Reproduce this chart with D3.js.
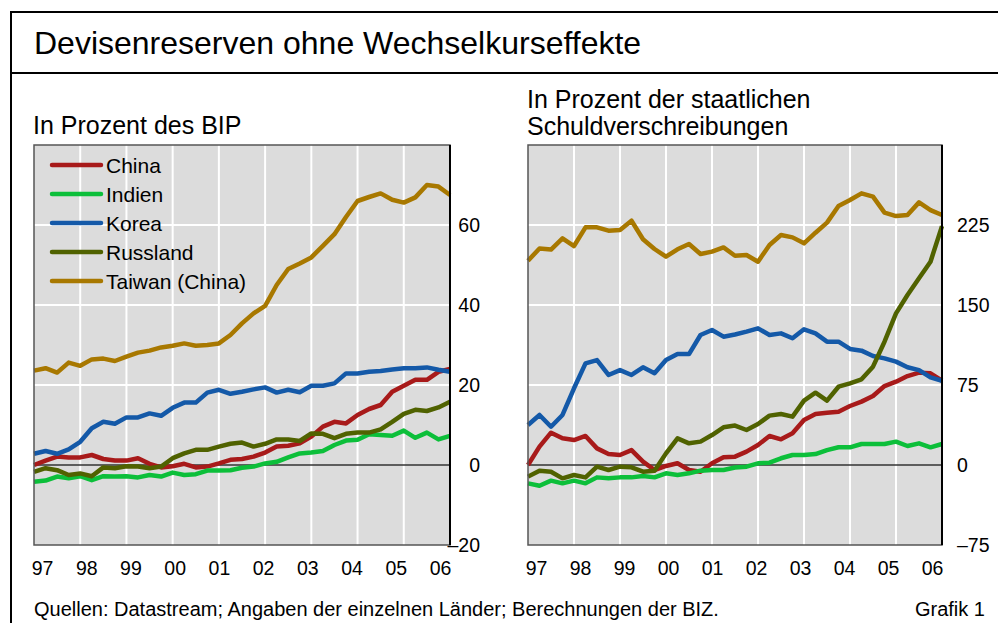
<!DOCTYPE html>
<html lang="de">
<head>
<meta charset="UTF-8">
<title>Devisenreserven ohne Wechselkurseffekte</title>
<script src="https://d3js.org/d3.v7.min.js"></script>
<style>
  body { margin: 0; background: #fff; }
  svg { display: block; font-family: "Liberation Sans", Arial, sans-serif; }
</style>
</head>
<body>
<div id="chart"></div>
<script>
// quarterly observations, 1997 Q1 to 2006 Q1
const yearLabels = ["97", "98", "99", "00", "01", "02", "03", "04", "05", "06"];
const countries = ["China", "Indien", "Korea", "Russland", "Taiwan (China)"];
const colors = ["#a81a1a", "#0cbf3a", "#1459a8", "#506200", "#a87800"];

// Left: in % of GDP
const bipChina = [0, 1.1, 2.1, 1.9, 1.9, 2.5, 1.5, 1.1, 1.1, 1.7, 0.3, -0.6, -0.3, 0.3, -0.6, -0.4, 0.4, 1.3, 1.5, 2.1, 3.1, 4.6, 4.8, 5.4, 7.1, 9.6, 10.8, 10.4, 12.5, 14.0, 15.0, 18.3, 19.8, 21.3, 21.3, 23.3, 24.0];
const bipIndien = [-4.2, -3.9, -2.9, -3.3, -2.8, -3.8, -2.8, -2.9, -2.8, -3.1, -2.5, -2.9, -1.9, -2.5, -2.3, -1.4, -1.4, -1.3, -0.7, -0.4, 0.4, 0.8, 1.9, 2.9, 3.1, 3.5, 5.0, 6.1, 6.3, 7.7, 7.5, 7.3, 8.6, 6.8, 8.1, 6.4, 7.3];
const bipKorea = [2.8, 3.5, 2.8, 3.9, 5.8, 9.2, 10.8, 10.3, 11.9, 11.9, 12.9, 12.3, 14.3, 15.6, 15.6, 18.1, 18.8, 17.8, 18.3, 18.9, 19.4, 18.1, 18.8, 18.2, 19.8, 19.8, 20.4, 22.9, 22.9, 23.3, 23.5, 23.9, 24.2, 24.2, 24.4, 23.8, 23.3];
const bipRussland = [-1.7, -0.8, -1.3, -2.5, -2.1, -2.8, -0.6, -0.8, -0.3, -0.4, -0.8, -0.4, 1.7, 2.9, 3.8, 3.8, 4.6, 5.3, 5.6, 4.6, 5.3, 6.4, 6.4, 6.0, 7.9, 7.8, 6.7, 7.8, 8.1, 8.1, 8.9, 10.8, 12.8, 13.8, 13.5, 14.4, 15.8];
const bipTaiwan = [23.6, 24.2, 23.1, 25.6, 24.8, 26.4, 26.6, 26.0, 27.1, 28.1, 28.6, 29.4, 29.8, 30.4, 29.8, 30.0, 30.4, 32.5, 35.4, 37.9, 39.8, 45.0, 49.0, 50.4, 51.9, 54.8, 57.7, 62.0, 66.0, 67.0, 67.9, 66.3, 65.6, 66.9, 70.0, 69.6, 67.5];

// Right: in % of government bonds
const sdvChina = [0, 17.2, 30.3, 25.0, 23.4, 27.2, 15.6, 10.3, 9.4, 14.0, 3.1, -4.7, -0.9, 1.6, -4.7, -6.3, 1.6, 7.2, 7.8, 12.5, 18.8, 27.2, 24.1, 29.7, 42.2, 47.8, 49.0, 50.0, 55.3, 59.4, 64.7, 74.0, 78.1, 83.4, 86.6, 86.0, 79.0];
const sdvIndien = [-17.2, -19.4, -14.7, -17.2, -14.7, -17.2, -11.6, -12.5, -11.6, -11.6, -10.3, -11.6, -7.8, -9.4, -7.8, -5.3, -4.7, -4.7, -2.4, -1.6, 1.6, 2.2, 6.3, 9.4, 9.4, 10.3, 14.0, 16.6, 16.6, 19.7, 19.7, 19.7, 21.9, 17.8, 20.3, 16.6, 19.7];
const sdvKorea = [37.5, 46.9, 35.9, 46.9, 71.9, 95.3, 98.4, 84.4, 89.0, 84.4, 91.6, 86.0, 98.4, 104.0, 104.0, 121.9, 126.6, 120.3, 122.3, 125.0, 128.1, 121.9, 123.4, 118.8, 127.2, 123.4, 115.6, 115.6, 108.8, 107.2, 102.2, 100.0, 96.9, 91.6, 89.0, 82.2, 79.0];
const sdvRussland = [-10.9, -5.3, -6.3, -12.5, -9.4, -11.6, -1.6, -4.7, -1.6, -2.2, -6.3, -5.3, 10.9, 25.0, 20.3, 21.9, 28.1, 35.3, 37.0, 32.8, 38.4, 46.3, 47.8, 45.3, 60.3, 67.8, 60.3, 73.4, 76.6, 80.3, 92.2, 115.6, 142.2, 159.4, 175.0, 190.6, 224.0];
const sdvTaiwan = [191.5, 203.0, 202.0, 212.5, 205.3, 222.8, 222.8, 219.7, 220.3, 229.0, 211.6, 202.5, 195.3, 202.2, 207.2, 197.8, 200.0, 204.0, 196.2, 196.9, 190.6, 206.3, 215.6, 213.4, 207.8, 217.8, 227.2, 242.8, 248.4, 254.7, 251.6, 236.6, 233.4, 234.4, 246.2, 239.0, 234.4];

const bipTicks = [-20, 0, 20, 40, 60];
const sdvTicks = [-75, 0, 75, 150, 225];

const width = 998, height = 623;
const svg = d3.select("#chart").append("svg")
    .attr("width", width)
    .attr("height", height);

// outer frame and title bar
svg.append("line").attr("x1", 11).attr("x2", width).attr("y1", 12).attr("y2", 12)
    .attr("stroke", "#000").attr("stroke-width", 2);
svg.append("line").attr("x1", 11).attr("x2", width).attr("y1", 73).attr("y2", 73)
    .attr("stroke", "#000").attr("stroke-width", 2);
svg.append("line").attr("x1", 11).attr("x2", 11).attr("y1", 11).attr("y2", height)
    .attr("stroke", "#000").attr("stroke-width", 2);

svg.append("text").attr("x", 34).attr("y", 54)
    .attr("font-size", 32).attr("fill", "#000")
    .text("Devisenreserven ohne Wechselkurseffekte");

svg.append("text").attr("x", 34).attr("y", 616)
    .attr("font-size", 20).attr("fill", "#000")
    .text("Quellen: Datastream; Angaben der einzelnen Länder; Berechnungen der BIZ.");
svg.append("text").attr("x", 985).attr("y", 616)
    .attr("font-size", 20).attr("text-anchor", "end").attr("fill", "#000")
    .text("Grafik 1");

function drawPanel(opts) {
    const { left, right, top, bottom, domain, ticks, series, subtitle, tickX, tickAnchor } = opts;
    const g = svg.append("g");
    const n = series[0].length;

    const x = d3.scaleLinear().domain([0, n - 1]).range([left, right]);
    const y = d3.scaleLinear().domain(domain).range([bottom, top]);
    const yearX = d3.scaleLinear().domain([0, 9]).range([left, right]);
    const labelX = d3.scalePoint().domain(yearLabels).range([left + 8, right - 10]);

    g.append("rect")
        .attr("x", left).attr("y", top)
        .attr("width", right - left).attr("height", bottom - top)
        .attr("fill", "#dcdcdc");

    // grid
    g.append("g").selectAll("line")
        .data(d3.range(1, 9))
        .join("line")
        .attr("x1", d => yearX(d)).attr("x2", d => yearX(d))
        .attr("y1", top).attr("y2", bottom)
        .attr("stroke", "#fff").attr("stroke-width", 2);
    g.append("g").selectAll("line")
        .data(ticks.filter(t => t !== 0 && t !== domain[0]))
        .join("line")
        .attr("x1", left).attr("x2", right)
        .attr("y1", d => y(d)).attr("y2", d => y(d))
        .attr("stroke", "#fff").attr("stroke-width", 2);

    g.append("line")
        .attr("x1", left).attr("x2", right)
        .attr("y1", y(0)).attr("y2", y(0))
        .attr("stroke", "#333").attr("stroke-width", 1.3);

    const line = d3.line()
        .x((d, i) => x(i))
        .y(d => y(d));

    g.append("g").selectAll("path")
        .data(series)
        .join("path")
        .attr("d", d => line(d))
        .attr("fill", "none")
        .attr("stroke", (d, i) => colors[i])
        .attr("stroke-width", 4.5)
        .attr("stroke-linejoin", "round");

    g.append("rect")
        .attr("x", left).attr("y", top)
        .attr("width", right - left).attr("height", bottom - top)
        .attr("fill", "none")
        .attr("stroke", "#555").attr("stroke-width", 1.5);
    g.append("line")
        .attr("x1", right).attr("x2", right).attr("y1", top).attr("y2", bottom)
        .attr("stroke", "#000").attr("stroke-width", 2);

    // y tick labels on the right
    g.append("g").selectAll("text")
        .data(ticks)
        .join("text")
        .attr("x", tickX)
        .attr("y", d => y(d) + 7)
        .attr("text-anchor", tickAnchor)
        .attr("font-size", 19.5)
        .text(d => d < 0 ? "\u2013" + Math.abs(d) : d);

    // x axis labels
    const xAxis = g.append("g")
        .attr("transform", `translate(0,${bottom + 16})`)
        .call(d3.axisBottom(labelX).tickSize(0).tickPadding(0));
    xAxis.select(".domain").remove();
    xAxis.selectAll("text")
        .attr("font-size", 19.5)
        .attr("font-family", "Liberation Sans, Arial, sans-serif")
        .attr("fill", "#000");

    subtitle.forEach((s, i) => {
        svg.append("text")
            .attr("x", left - 1)
            .attr("y", opts.subtitleY + i * 27)
            .attr("font-size", 25)
            .text(s);
    });

    return { x, y };
}

drawPanel({
    left: 34, right: 450, top: 145, bottom: 545,
    domain: [-20, 80], ticks: bipTicks,
    series: [bipChina, bipIndien, bipKorea, bipRussland, bipTaiwan],
    subtitle: ["In Prozent des BIP"], subtitleY: 134,
    tickX: 480, tickAnchor: "end"
});

drawPanel({
    left: 528, right: 942, top: 145, bottom: 545,
    domain: [-75, 300], ticks: sdvTicks,
    series: [sdvChina, sdvIndien, sdvKorea, sdvRussland, sdvTaiwan],
    subtitle: ["In Prozent der staatlichen", "Schuldverschreibungen"], subtitleY: 108,
    tickX: 957, tickAnchor: "start"
});

// legend
const legend = svg.append("g").selectAll("g")
    .data(countries)
    .join("g")
    .attr("transform", (d, i) => `translate(52,${165 + i * 29})`);
legend.append("line")
    .attr("x1", 0).attr("x2", 49)
    .attr("stroke", (d, i) => colors[i])
    .attr("stroke-width", 4.5)
    .attr("stroke-linecap", "round");
legend.append("text")
    .attr("x", 54).attr("y", 7.5)
    .attr("font-size", 21)
    .text(d => d);
</script>
</body>
</html>
